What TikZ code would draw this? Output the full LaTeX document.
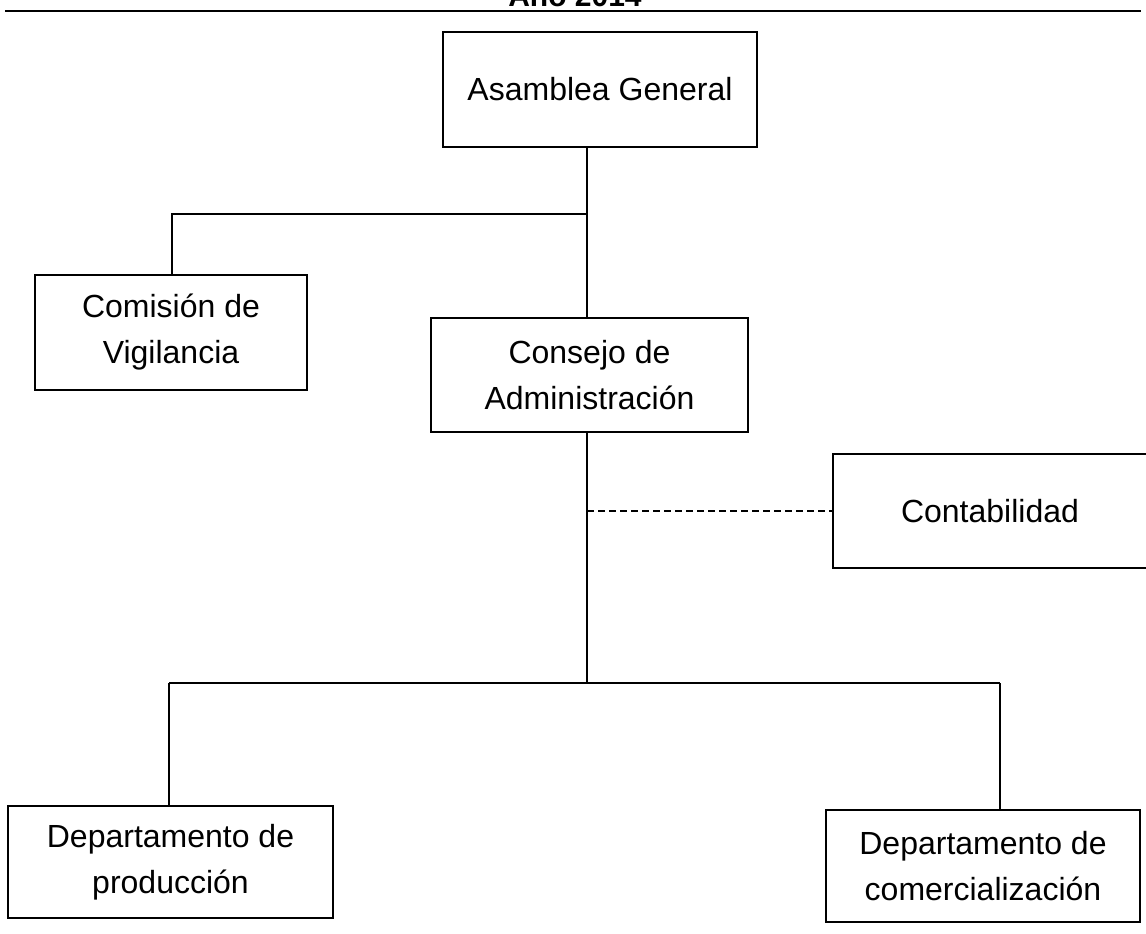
\documentclass[tikz,border=0pt]{standalone}
\usepackage{fontspec}
\setmainfont{Liberation Sans}
\begin{document}
\begin{tikzpicture}[x=1pt,y=-1pt,
  box/.style={draw, line width=1.5pt, align=center, inner sep=0pt,
    font=\fontsize{32}{46}\selectfont},
  conn/.style={line width=1.6pt},
  dconn/.style={line width=1.4pt, dash pattern=on 7pt off 4pt}]
\useasboundingbox (0,0) rectangle (1146,934);
\node[font=\bfseries\fontsize{30}{34}\selectfont, anchor=base] (title) at (575,7) {Año 2014};
\draw[line width=1.6pt] (5,11) -- (1141,11);
\node[box, minimum width=314pt, minimum height=115pt] (ag) at (600,89.5) {Asamblea General};
\node[box, minimum width=272pt, minimum height=115pt] (cv) at (171,332.5) {Comisión de\\Vigilancia};
\node[box, minimum width=317pt, minimum height=114pt] (ca) at (589.5,375) {Consejo de\\Administración};
\node[box, minimum width=314pt, minimum height=114pt] (co) at (990,511) {Contabilidad};
\node[box, minimum width=325pt, minimum height=112pt] (dp) at (170.5,862) {Departamento de\\producción};
\node[box, minimum width=314pt, minimum height=112pt] (dc) at (983,866) {Departamento de\\comercialización};
\coordinate (j1) at (587,214);
\coordinate (j2) at (587,511);
\coordinate (j3) at (587,683);
\draw[conn] (ag.south -| j1) -- (ca.north -| j1);
\draw[conn] (j1) -| (cv.north -| 172,0);
\draw[conn] (ca.south -| j1) -- (j3);
\draw[conn] (169,683) -- (1000,683);
\draw[conn] (169,683) -- (dp.north -| 169,0);
\draw[conn] (1000,683) -- (dc.north -| 1000,0);
\draw[dconn] (j2) -- (co.west);
\end{tikzpicture}
\end{document}
